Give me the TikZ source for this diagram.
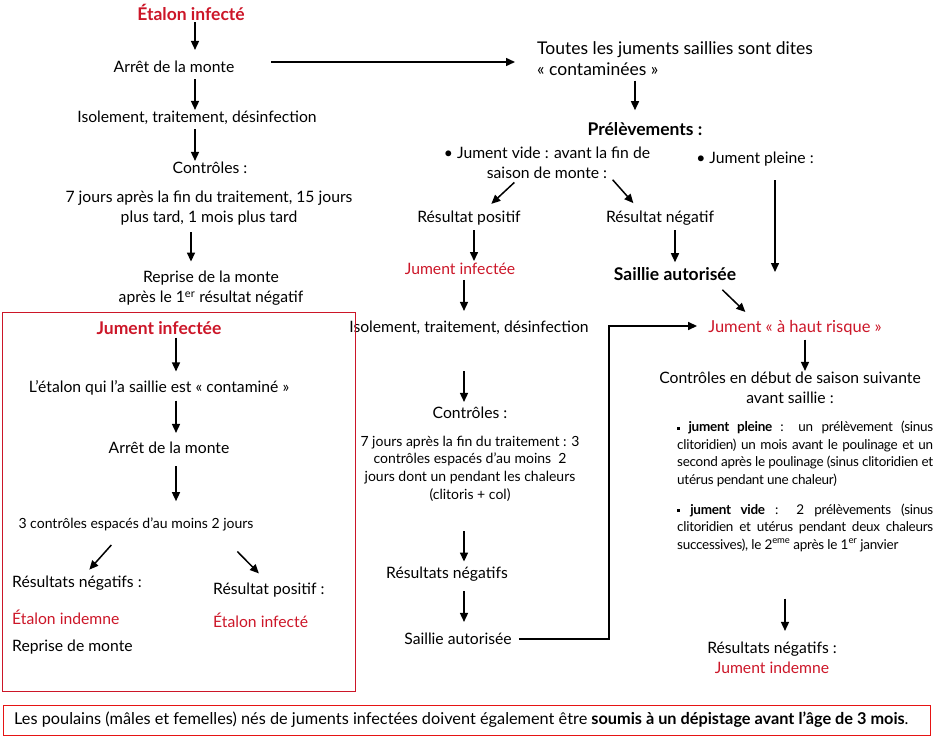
\documentclass[tikz,border=0pt]{standalone}
\usepackage{fontspec}
\setmainfont{Lato}
\usetikzlibrary{arrows.meta}
\definecolor{rouge}{RGB}{204,22,40}
\definecolor{vif}{RGB}{230,20,20}
\tikzset{
  fl/.style={-{Triangle[length=9pt,width=8pt]}, line width=1.5pt},
  txt/.style={inner sep=0pt, align=center, font=\fontsize{15.7}{20}\selectfont},
  txtg/.style={inner sep=0pt, align=left, font=\fontsize{17.5}{21}\selectfont},
  txtb/.style={inner sep=0pt, align=center, font=\fontsize{17.5}{20}\selectfont\bfseries},
  petit/.style={inner sep=0pt, align=center, font=\fontsize{14}{17.7}\selectfont},
  para/.style={inner sep=0pt, align=left, font=\fontsize{13.5}{17.5}\selectfont\addfontfeatures{LetterSpace=-2}},
  cadre/.style={draw=rouge, line width=0.8pt},
}
\newcommand{\carre}{\rule[2pt]{3pt}{3pt}}
\begin{document}
\begin{tikzpicture}[x=1pt,y=-1pt]
\useasboundingbox (0,0) rectangle (937,738);
\node[txtb, text=rouge] (etalon) at (191,12) {Étalon infecté};
\node[txt] (arret) at (174,67) {Arrêt de la monte};
\node[txt] (isol) at (197,118) {Isolement, traitement, désinfection};
\node[txt] (ctrl) at (210,168) {Contrôles :};
\node[txt] (delais) at (209,208) {7 jours après la fin du traitement, 15 jours\\plus tard, 1 mois plus tard};
\node[txt] (reprise) at (211,288) {Reprise de la monte\\après le 1\textsuperscript{er} résultat négatif};
\draw[fl, shorten <=2pt, shorten >=11pt] ([xshift=4]etalon.south) -- ([xshift=4]etalon.south |- arret.north);
\draw[fl, shorten <=6pt, shorten >=1pt] ([xshift=-2]arret.south -| isol.north) -- ([xshift=-2]isol.north);
\draw[fl, shorten <=4pt, shorten >=1pt] ([xshift=-2]isol.south) -- ([xshift=-2]isol.south |- ctrl.north);
\draw[fl, shorten <=7pt, shorten >=9pt] ([xshift=-18]delais.south) -- ([xshift=-18]delais.south |- reprise.north);

\node[txtg, anchor=west] (toutes) at (537,58.5) {Toutes les juments saillies sont dites\\« contaminées »};
\draw[fl, shorten <=37pt, shorten >=22pt] ([yshift=5]arret.east) -- ([yshift=5]arret.east -| toutes.west);
\node[txtb] (prelev) at (645,129) {Prélèvements :};
\draw[fl, shorten <=5pt, shorten >=12pt] ([xshift=-10]prelev.north |- toutes.south) -- ([xshift=-10]prelev.north);
\node[txt] (vide) at (547,163) {\textbullet{} Jument vide : avant la fin de\\saison de monte :};
\node[txt] (pleine) at (755,159) {\textbullet{} Jument pleine :};
\node[txt] (positif) at (469,218) {Résultat positif};
\node[txt] (negatif) at (660,218) {Résultat négatif};
\node[txt, text=rouge] (jinf) at (460,269) {Jument infectée};
\node[txtb] (sautor) at (675,274) {Saillie autorisée};
\node[txt, font=\fontsize{16.5}{20}\selectfont, text=rouge] (risque) at (795,328) {Jument « à haut risque »};
\node[txt] (isol2) at (469,328) {Isolement, traitement, désinfection};
\draw[fl, shorten <=5pt, shorten >=10pt] ([xshift=-29]vide.south) -- ([xshift=15]positif.north);
\draw[fl, shorten <=1pt, shorten >=10pt] ([xshift=65]vide.south) -- ([xshift=-20]negatif.north);
\draw[fl, shorten <=5pt, shorten >=2pt] ([xshift=5]positif.south) -- ([xshift=5]positif.south |- jinf.north);
\draw[fl, shorten <=5pt, shorten >=5pt] (sautor.north |- negatif.south) -- (sautor.north);
\draw[fl, shorten <=14pt, shorten >=2pt] ([xshift=20]pleine.south) -- ([xshift=20]pleine.south |- sautor.center);
\draw[fl, shorten <=13pt, shorten >=12pt] ([xshift=38]sautor.south) -- ([xshift=-41]risque.north);
\draw[fl, shorten <=5pt, shorten >=10pt] ([xshift=4]jinf.south) -- ([xshift=4]jinf.south |- isol2.north);

\node[txt] (ctrl2) at (470,413) {Contrôles :};
\node[petit] (detail2) at (470,468.5) {7 jours après la fin du traitement : 3\\contrôles espacés d'au moins~ 2\\jours dont un pendant les chaleurs\\(clitoris + col)};
\node[txt] (resneg) at (447,574) {Résultats négatifs};
\node[txt] (saill2) at (458,639) {Saillie autorisée};
\coordinate (coude) at (609,326);
\draw[fl, shorten <=36pt, shorten >=5pt] ([xshift=-5]isol2.south) -- ([xshift=-5]isol2.south |- ctrl2.north);
\draw[fl, shorten <=30pt, shorten >=5pt] ([xshift=-6]detail2.south) -- ([xshift=-6]detail2.south |- resneg.north);
\draw[fl, shorten <=10pt, shorten >=11pt] ([xshift=17]resneg.south) -- ([xshift=17]resneg.south |- saill2.north);
\draw[fl, shorten <=7pt, shorten >=11pt] (saill2.east) -- (saill2.east -| coude) -- (coude) -- (coude -| risque.west);

\node[txt] (ctrl3) at (790,388) {Contrôles en début de saison suivante\\avant saillie :};
\draw[fl, shorten <=4pt, shorten >=1pt] ([xshift=10]risque.south) -- ([xshift=10]risque.south |- ctrl3.north);
\node[para, anchor=west] (pleinep) at (677,454) {\makebox[256pt][s]{\carre{} \textbf{jument pleine} : un prélèvement (sinus}\\\makebox[256pt][s]{clitoridien) un mois avant le poulinage et un}\\\makebox[256pt][s]{second après le poulinage (sinus clitoridien et}\\utérus pendant une chaleur)};
\node[para, anchor=west] (videp) at (677,527.5) {\makebox[256pt][s]{\carre{} \textbf{jument vide} : 2 prélèvements (sinus}\\\makebox[256pt][s]{clitoridien et utérus pendant deux chaleurs}\\successives), le 2\textsuperscript{eme} après le 1\textsuperscript{er} janvier};
\node[txt] (resneg3) at (772,658) {Résultats négatifs :\\\textcolor{rouge}{Jument indemne}};
\draw[fl, shorten <=47pt, shorten >=11pt] ([xshift=13]resneg3.north |- videp.south) -- ([xshift=13]resneg3.north);

\draw[cadre] (2,312) rectangle (355,691);
\node[txtb, text=rouge] (jinf2) at (159,328) {Jument infectée};
\node[txt] (etcont) at (159,388) {L’étalon qui l’a saillie est « contaminé »};
\node[txt] (arret2) at (169,448) {Arrêt de la monte};
\node[petit] (troisc) at (136,524) {3 contrôles espacés d'au moins 2 jours};
\node[txt, anchor=west] (resnegs) at (12,583) {Résultats négatifs :};
\node[txt, anchor=west, text=rouge] (indemne) at (12,617) {Étalon indemne};
\node[txt, anchor=west] (reprise2) at (12,647) {Reprise de monte};
\node[txt, anchor=west] (respos) at (213,590) {Résultat positif :};
\node[txt, anchor=west, text=rouge] (infecte2) at (213,620) {Étalon infecté};
\draw[fl, shorten <=3pt, shorten >=9pt] ([xshift=17]jinf2.south) -- ([xshift=17]jinf2.south |- etcont.north);
\draw[fl, shorten <=5pt, shorten >=9pt] ([xshift=17]etcont.south) -- ([xshift=17]etcont.south |- arret2.north);
\draw[fl, shorten <=12pt, shorten >=16pt] ([xshift=7]arret2.south) -- ([xshift=7]arret2.south |- troisc.north);
\draw[fl, shorten <=19pt, shorten >=8pt] ([xshift=-12]troisc.south) -- ([xshift=72]resnegs.north west);
\draw[fl, shorten <=29pt, shorten >=13pt] ([xshift=81]troisc.south) -- ([xshift=55]respos.north west);

\draw[draw=vif, line width=0.8pt] (3,705) rectangle (930,735);
\node[txt, font=\fontsize{16.3}{20}\selectfont, anchor=west] (note) at (14,720) {Les poulains (mâles et femelles) nés de juments infectées doivent également être \textbf{soumis à un dépistage avant l’âge de 3 mois}.};
\end{tikzpicture}
\end{document}
